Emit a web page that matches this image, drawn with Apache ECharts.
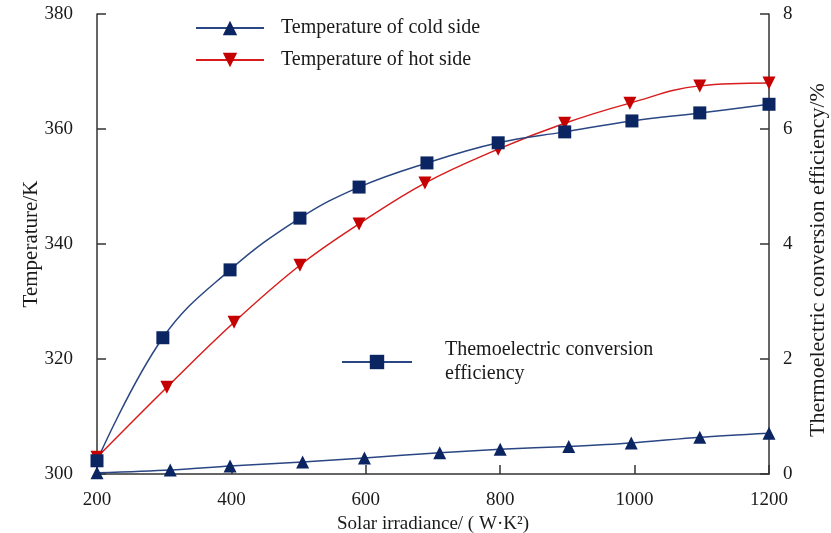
<!DOCTYPE html>
<html>
<head>
<meta charset="utf-8">
<script src="https://cdn.jsdelivr.net/npm/echarts@6/dist/echarts.min.js"></script>
<style>
html, body { margin: 0; padding: 0; background: #fff; }
#chart { width: 831px; height: 533px; }
</style>
</head>
<body>
<div id="chart"></div>
<script>
// irradiance values (points sit slightly off the round hundreds)
var coldX = [200, 309, 398, 506, 598, 710, 800, 902, 995, 1097, 1200];
var coldTemp = [300.2, 300.7, 301.4, 302.1, 302.8, 303.7, 304.3, 304.8, 305.4, 306.4, 307.1];

var hotX = [200, 304, 404, 502, 590, 688, 797, 896, 993, 1097, 1200];
var hotTemp = [302.9, 315.1, 326.4, 336.3, 343.5, 350.6, 356.5, 361.0, 364.5, 367.5, 368.0];

var effX = [200, 298, 398, 502, 590, 691, 797, 896, 996, 1097, 1200];
var effValue = [0.23, 2.37, 3.55, 4.45, 4.99, 5.41, 5.76, 5.95, 6.14, 6.28, 6.43];

var tempTicks = [300, 320, 340, 360, 380];
var effTicks = [0, 2, 4, 6, 8];

var navy = '#0b2462';
var navyLine = '#2a4683';
var red = '#c40000';
var red2 = '#d91c1c';
var serif = '"Liberation Serif", "DejaVu Serif", serif';

function pairs(xs, ys) {
	var out = [];
	for (var i = 0; i < xs.length; i++) {
		out.push([xs[i], ys[i]]);
	}
	return out;
}

var myChart = echarts.init(document.getElementById('chart'));
var option = {
	animation: false,
	backgroundColor: '#fff',
	grid: { left: 97, right: 62, top: 14, bottom: 59, containLabel: false, outerBoundsMode: 'none' },
	legend: [{
		data: ['Temperature of cold side', 'Temperature of hot side'],
		orient: 'vertical',
		left: 190,
		top: 13,
		itemWidth: 68,
		itemHeight: 18,
		itemGap: 12,
		textStyle: { fontFamily: serif, fontSize: 20, color: '#1a1a1a', padding: [0, 0, 0, 12] }
	}, {
		data: ['Themoelectric conversion efficiency'],
		left: 336,
		top: 333,
		itemWidth: 70,
		itemHeight: 18,
		formatter: function () { return 'Themoelectric conversion\nefficiency'; },
		textStyle: { fontFamily: serif, fontSize: 20, color: '#1a1a1a', lineHeight: 24, padding: [0, 0, 0, 28] }
	}],
	xAxis: {
		type: 'value',
		min: 200,
		max: 1200,
		interval: 200,
		name: 'Solar irradiance/ ( W·K²)',
		nameLocation: 'middle',
		nameGap: 39,
		nameTextStyle: { fontFamily: serif, fontSize: 19, color: '#1a1a1a' },
		axisLine: { lineStyle: { color: '#333', width: 1.5 } },
		axisTick: { inside: true, length: 9, lineStyle: { color: '#333', width: 1.5 } },
		axisLabel: { fontFamily: serif, fontSize: 19, color: '#1a1a1a', margin: 17, formatter: function (v) { return String(v); } },
		splitLine: { show: false }
	},
	yAxis: [{
		type: 'value',
		min: tempTicks[0],
		max: tempTicks[tempTicks.length - 1],
		interval: 20,
		name: 'Temperature/K',
		nameLocation: 'middle',
		nameGap: 55,
		nameMoveOverlap: false,
		nameTextStyle: { fontFamily: serif, fontSize: 21, color: '#1a1a1a' },
		axisLine: { show: true, lineStyle: { color: '#333', width: 1.5 } },
		axisTick: { show: true, inside: true, length: 9, lineStyle: { color: '#333', width: 1.5 } },
		axisLabel: { fontFamily: serif, fontSize: 19, color: '#1a1a1a', margin: 24 },
		splitLine: { show: false }
	}, {
		type: 'value',
		position: 'right',
		min: effTicks[0],
		max: effTicks[effTicks.length - 1],
		interval: 2,
		name: 'Thermoelectric conversion efficiency/%',
		nameLocation: 'middle',
		nameGap: 38,
		nameRotate: 90,
		nameTextStyle: { fontFamily: serif, fontSize: 22, color: '#1a1a1a', padding: [0, 32, 0, 0] },
		axisLine: { show: true, lineStyle: { color: '#333', width: 1.5 } },
		axisTick: { show: true, inside: true, length: 9, lineStyle: { color: '#333', width: 1.5 } },
		axisLabel: { fontFamily: serif, fontSize: 19, color: '#1a1a1a', margin: 14 },
		splitLine: { show: false }
	}],
	series: [{
		name: 'Temperature of cold side',
		type: 'line',
		yAxisIndex: 0,
		data: pairs(coldX, coldTemp),
		smooth: 0.3,
		symbol: 'triangle',
		symbolSize: 13,
		lineStyle: { color: navyLine, width: 1.5 },
		itemStyle: { color: navy }
	}, {
		name: 'Temperature of hot side',
		type: 'line',
		yAxisIndex: 0,
		data: pairs(hotX, hotTemp),
		smooth: 0.4,
		symbol: 'triangle',
		symbolRotate: 180,
		symbolSize: 13,
		lineStyle: { color: red2, width: 1.5 },
		itemStyle: { color: red }
	}, {
		name: 'Themoelectric conversion efficiency',
		type: 'line',
		yAxisIndex: 1,
		data: pairs(effX, effValue),
		smooth: 0.4,
		symbol: 'rect',
		symbolSize: 13,
		lineStyle: { color: navyLine, width: 1.5 },
		itemStyle: { color: navy }
	}]
};
myChart.setOption(option);
</script>
</body>
</html>
